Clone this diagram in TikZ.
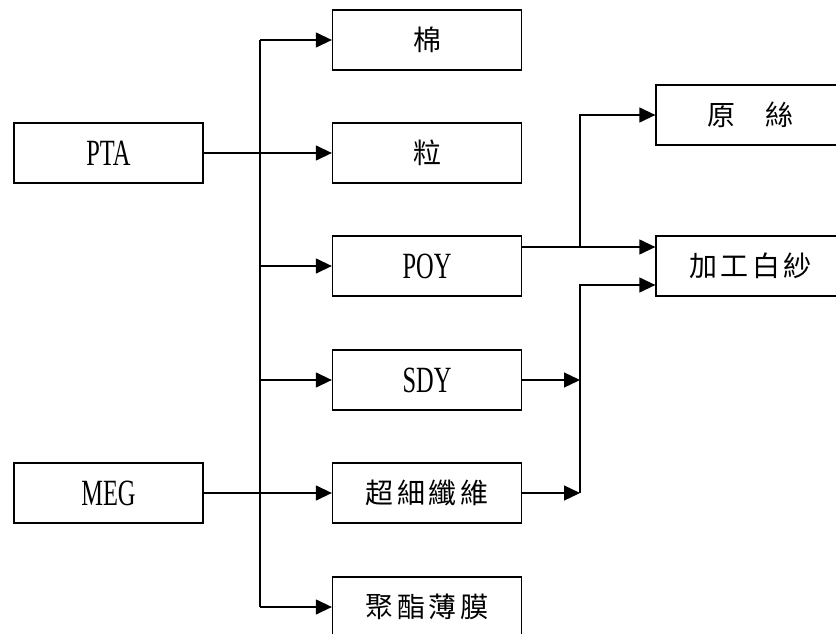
\documentclass[tikz,border=0pt]{standalone}
\usepackage{fontspec}
\usetikzlibrary{arrows.meta}
\newfontfamily\latinfont{Liberation Serif}[FakeStretch=0.66]
\newfontfamily\cjkfont{Noto Sans CJK TC}[LetterSpace=12]
\begin{document}
\begin{tikzpicture}[x=1pt,y=-1pt,
  box/.style={draw,line width=1.3pt,minimum width=189pt,minimum height=60pt,inner sep=0pt,font=\cjkfont\fontsize{28pt}{30pt}\selectfont},
  lbox/.style={box,font=\latinfont\fontsize{37pt}{40pt}\selectfont},
  conn/.style={line width=1.3pt},
  arr/.style={conn,-{Triangle[length=16pt,width=15pt]}}]
\useasboundingbox (0,0) rectangle (836,634);
\clip (0,0) rectangle (836,634);
% left inputs
\node[lbox] (pta) at (108.5,153) {PTA};
\node[lbox] (meg) at (108.5,493) {MEG};
% middle products
\node[box] (cotton) at (427,40) {棉};
\node[box] (grain) at (427,153) {粒};
\node[lbox] (poy) at (427,266) {POY};
\node[lbox] (sdy) at (427,380) {SDY};
\node[box] (micro) at (427,493) {超細纖維};
\node[box] (film) at (427,607) {聚酯薄膜};
% right products
\node[box] (raw) at (750.5,115) {原\hspace{30pt}絲};
\node[box] (dty) at (750.5,266) {加工白紗};
% trunk
\coordinate (tr) at (260,0);
\coordinate (br) at (580,0);
\draw[conn] (tr |- cotton.west) -- (tr |- film.west);
\draw[arr] (tr |- cotton.west) -- (cotton.west);
\draw[arr] (pta.east) -- (grain.west);
\draw[arr] (tr |- poy.west) -- (poy.west);
\draw[arr] (tr |- sdy.west) -- (sdy.west);
\draw[arr] (meg.east) -- (micro.west);
\draw[arr] (tr |- film.west) -- (film.west);
% POY outputs
\coordinate (pout) at ([yshift=19pt]poy.east);
\draw[arr] (pout) -- ([yshift=19pt]dty.west);
\draw[arr] (br |- pout) |- (raw.west);
% SDY / micro outputs
\draw[arr] (sdy.east) -- (br |- sdy.east);
\draw[arr] (micro.east) -- (br |- micro.east);
\draw[arr] (br |- micro.east) |- ([yshift=-19pt]dty.west);
\end{tikzpicture}
\end{document}
